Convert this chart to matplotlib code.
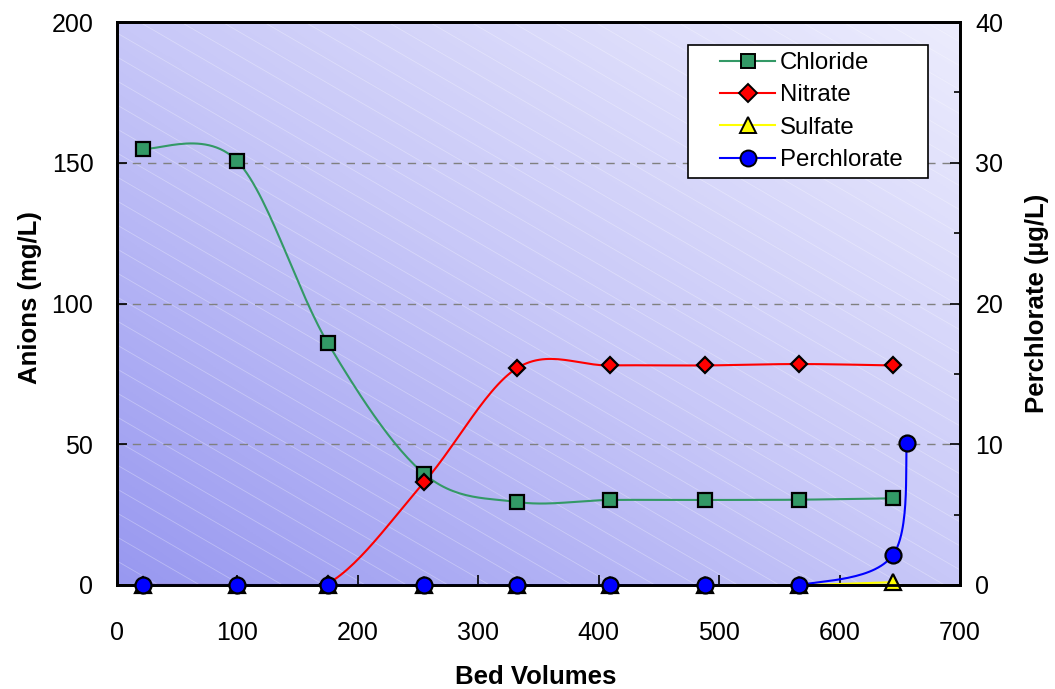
import numpy as np
import matplotlib
matplotlib.use("Agg")
import matplotlib.pyplot as plt
from matplotlib.colors import LinearSegmentedColormap
from matplotlib.collections import LineCollection
from matplotlib.lines import Line2D
from matplotlib.patches import Rectangle

plt.rcParams['font.family'] = ['Liberation Sans', 'DejaVu Sans']

# data
bed_volumes = [21.5, 100, 175, 255, 332, 409, 488, 566, 644]
chloride = [155, 150.5, 86, 39.5, 29.5, 30.2, 30.2, 30.3, 30.8]
nitrate = [0, 0, 0.5, 36.5, 77, 78, 78, 78.5, 78]
sulfate = [0, 0, 0, 0, 0, 0, 0, 0, 1]
perc_bv = [21.5, 100, 175, 255, 332, 409, 488, 566, 644, 656]
perchlorate = [0, 0, 0, 0, 0, 0, 0, 0, 2.1, 10.1]


def smooth(x, y, n=30):
    # Excel-style smoothed line (Catmull-Rom through the points)
    p = np.column_stack([x, y]).astype(float)
    pts = np.vstack([p[0], p, p[-1]])
    out = []
    t = np.linspace(0, 1, n)[:, None]
    for i in range(1, len(pts) - 2):
        p0, p1, p2, p3 = pts[i - 1], pts[i], pts[i + 1], pts[i + 2]
        c1 = p1 + (p2 - p0) / 6
        c2 = p2 - (p3 - p1) / 6
        seg = ((1 - t) ** 3) * p1 + 3 * ((1 - t) ** 2) * t * c1 + 3 * (1 - t) * t ** 2 * c2 + t ** 3 * p2
        out.append(seg if i == 1 else seg[1:])
    out = np.vstack(out)
    return out[:, 0], out[:, 1]


W, H = 1055, 689
fig = plt.figure(figsize=(W / 100, H / 100), dpi=100)
ax = fig.add_axes([117 / W, 1 - 585 / H, 843 / W, 563 / H])
ax2 = ax.twinx()

# gradient background
gx, gy = np.meshgrid(np.linspace(0, 1, 300), np.linspace(0, 1, 300))
grad = (gx + gy) / 2
cmap = LinearSegmentedColormap.from_list('bg', ['#9898f0', '#c8c8f8', '#ececfd'])
ax.imshow(grad, extent=(0, 1, 0, 1), origin='lower', transform=ax.transAxes,
          cmap=cmap, aspect='auto', zorder=0, interpolation='bilinear')

# faint diagonal texture lines
aw, ah = 843.0, 563.0
slope, step = 0.58, 24.0
segs = []
for c in np.arange(0, ah + slope * aw + step, step):
    segs.append([(0, c / ah), (1, (c - slope * aw) / ah)])
ax.add_collection(LineCollection(segs, colors=[(1, 1, 1, 0.3)], linewidths=0.6,
                                 transform=ax.transAxes, zorder=0.5))

for v in [50, 100, 150]:
    ax.axhline(v, color='#808080', lw=1, ls=(0, (6, 5)), zorder=1)

mk = dict(markeredgecolor='black', markeredgewidth=1.6, clip_on=False)
sx, sy = smooth(bed_volumes, chloride)
ax.plot(sx, sy, color='#339966', lw=1.5, zorder=2)
ax.plot(bed_volumes, chloride, ls='none', marker='s', ms=9.5, color='#339966', zorder=3, **mk)
sx, sy = smooth(bed_volumes, nitrate)
ax.plot(sx, sy, color='red', lw=1.5, zorder=2)
ax.plot(bed_volumes, nitrate, ls='none', marker='D', ms=8.5, color='red', zorder=3, **mk)
sx, sy = smooth(bed_volumes, sulfate)
ax.plot(sx, sy, color='yellow', lw=1.5, zorder=2)
ax.plot(bed_volumes, sulfate, ls='none', marker='^', ms=11, color='yellow', zorder=3, **mk)
sx, sy = smooth(perc_bv, perchlorate)
ax2.plot(sx, sy, color='blue', lw=1.5, zorder=2)
ax2.plot(perc_bv, perchlorate, ls='none', marker='o', ms=11.5, color='blue', zorder=3, **mk)

ax.set_xlim(0, 700)
ax.set_ylim(0, 200)
ax2.set_ylim(0, 40)
ax.set_xticks(np.arange(0, 701, 100))
ax.set_yticks(np.arange(0, 201, 50))
ax2.set_yticks(np.arange(0, 41, 10))
ax2.set_yticks(np.arange(0, 41, 5), minor=True)

ax.tick_params(axis='y', direction='in', length=7, width=1.2, labelsize=18, pad=17)
ax.tick_params(axis='x', direction='in', length=7, width=1.2, labelsize=18, pad=26)
ax2.tick_params(axis='y', which='major', direction='in', length=7, width=1.2, labelsize=18, pad=11)
ax2.tick_params(axis='y', which='minor', direction='in', length=4, width=1.2)

for a in (ax, ax2):
    for s in a.spines.values():
        s.set_linewidth(2)
        s.set_color('black')

fig.text(536 / W, 1 - 677 / H, 'Bed Volumes', fontsize=18.5, fontweight='bold',
         ha='center', va='center')
fig.text(30 / W, 1 - 298 / H, 'Anions (mg/L)', fontsize=18.5, fontweight='bold',
         ha='center', va='center', rotation=90)
fig.text(1037 / W, 1 - 303 / H, 'Perchlorate (\u00b5g/L)', fontsize=18.5, fontweight='bold',
         ha='center', va='center', rotation=90)

# legend box
ax2.add_artist(Rectangle((688 / W, 1 - 178 / H), 240 / W, 133 / H, transform=fig.transFigure,
                         facecolor='white', edgecolor='black', lw=1.2, zorder=4, clip_on=False))
handles = [
    Line2D([], [], color='#339966', marker='s', ms=10, markeredgecolor='black', markeredgewidth=1.4),
    Line2D([], [], color='red', marker='D', ms=9, markeredgecolor='black', markeredgewidth=1.4),
    Line2D([], [], color='yellow', marker='^', ms=11.5, markeredgecolor='black', markeredgewidth=1.4),
    Line2D([], [], color='blue', marker='o', ms=11.5, markeredgecolor='black', markeredgewidth=1.4),
]
leg = ax2.legend(handles, ['Chloride', 'Nitrate', 'Sulfate', 'Perchlorate'],
                 loc='upper left', bbox_to_anchor=(720 / W, 1 - 52 / H),
                 bbox_transform=fig.transFigure, borderaxespad=0,
                 fontsize=17.3, frameon=False, handlelength=2.3, labelspacing=0.43,
                 borderpad=0, handletextpad=0.2)
leg.set_zorder(5)

fig.savefig('out.png', dpi=100)
